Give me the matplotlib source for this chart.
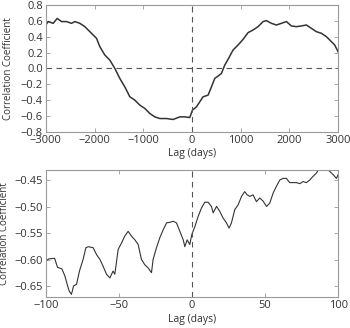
import matplotlib
matplotlib.use('Agg')
from matplotlib import pyplot as plt

plt.rcParams['font.family'] = ['Open Sans', 'DejaVu Sans']
plt.rcParams['font.size'] = 7.5

# panel 1: long lag range
lagLargo = [-3000, -2952, -2850, -2767, -2678, -2576, -2473, -2405, -2302, -2200,
            -2097, -1960, -1892, -1789, -1687, -1584, -1482, -1379, -1276, -1174,
            -1071, -968, -866, -763, -661, -524, -387, -250, -148, -45,
            10, 92, 160, 228, 331, 400, 468, 536, 605, 673,
            741, 844, 947, 1049, 1152, 1254, 1357, 1460, 1528, 1631,
            1733, 1836, 1938, 2041, 2143, 2246, 2349, 2451, 2554, 2657,
            2759, 2862, 2930, 3000]
corrLargo = [0.547, 0.59, 0.568, 0.63, 0.59, 0.59, 0.568, 0.59, 0.568, 0.526,
             0.463, 0.379, 0.274, 0.168, 0.105, 0.0, -0.126, -0.232, -0.358, -0.4,
             -0.463, -0.505, -0.568, -0.611, -0.632, -0.632, -0.644, -0.611, -0.611, -0.619,
             -0.526, -0.484, -0.421, -0.358, -0.337, -0.232, -0.126, -0.097, -0.063, 0.042,
             0.114, 0.232, 0.295, 0.366, 0.451, 0.484, 0.526, 0.59, 0.602, 0.568,
             0.547, 0.568, 0.59, 0.535, 0.526, 0.535, 0.547, 0.505, 0.463, 0.442,
             0.4, 0.337, 0.295, 0.21]

# panel 2: zoom on +-100 days
lagCorto = [-100, -98, -94, -92, -89, -87, -85, -84, -82.5, -81,
            -79, -77, -74.5, -72.6, -71, -67.6, -65.3, -63, -60.8, -58.5,
            -56.2, -54, -52.8, -50.5, -48.2, -46, -43.7, -41.4, -39.1, -36.8,
            -34.6, -32.3, -30, -27.7, -26.6, -24.3, -22, -19.7, -17.4, -15.2,
            -12.9, -10.6, -8.3, -6, -4.9, -3.3, -1.5, -0.1, 2, 4.2,
            6.5, 8.8, 11, 13.3, 14.5, 16.8, 19, 21.3, 23.6, 25.4,
            27, 29.3, 31.6, 33.9, 36.1, 37.7, 39.6, 41.8, 44.1, 46.4,
            48.7, 51, 53.2, 55.5, 57.8, 60.1, 62.4, 64.6, 66.9, 69.2,
            71.5, 73.8, 76, 78.3, 80.6, 82.9, 85.2, 87, 89.7, 93.2,
            96.6, 98.9, 100]
corrCorto = [-0.602, -0.598, -0.597, -0.614, -0.617, -0.63, -0.65, -0.659, -0.665, -0.649,
             -0.646, -0.621, -0.599, -0.577, -0.575, -0.577, -0.59, -0.599, -0.612, -0.627,
             -0.634, -0.621, -0.627, -0.58, -0.568, -0.555, -0.546, -0.555, -0.562, -0.571,
             -0.599, -0.609, -0.615, -0.624, -0.599, -0.577, -0.558, -0.543, -0.53, -0.529,
             -0.527, -0.53, -0.546, -0.562, -0.575, -0.562, -0.571, -0.552, -0.537, -0.518,
             -0.502, -0.491, -0.491, -0.499, -0.511, -0.499, -0.508, -0.521, -0.53, -0.54,
             -0.53, -0.505, -0.496, -0.48, -0.471, -0.477, -0.48, -0.477, -0.49, -0.483,
             -0.489, -0.499, -0.493, -0.474, -0.461, -0.449, -0.446, -0.446, -0.454, -0.454,
             -0.454, -0.456, -0.452, -0.454, -0.449, -0.442, -0.436, -0.427, -0.42, -0.43,
             -0.439, -0.446, -0.439]

fig = plt.figure(figsize=(3.5, 3.28), dpi=100)
ax1 = fig.add_axes([0.131, 0.598, 0.835, 0.387])
ax2 = fig.add_axes([0.131, 0.0945, 0.835, 0.3875])


def estilo(ax, xlab):
    for s in ax.spines.values():
        s.set_color('#999999')
        s.set_linewidth(0.8)
    ax.tick_params(direction='in', top=True, right=True, colors='#999999',
                   labelcolor='#333333', length=3, width=0.6, pad=2, labelsize=8)
    ax.set_xlabel('Lag (days)', color='#333333', labelpad=2)
    ax.set_ylabel('Correlation Coefficient', color='#333333', fontsize=7)
    ax.yaxis.set_label_coords(xlab, 0.5)


ax1.plot(lagLargo, corrLargo, color='#333333', lw=1.1)
ax1.axhline(0, color='#555555', lw=0.8, ls=(0, (5, 4)))
ax1.axvline(0, color='#555555', lw=0.8, ls=(0, (5, 4)))
ax1.set_xlim(-3000, 3000)
ax1.set_ylim(-0.8, 0.8)
ax1.set_yticks([-0.8, -0.6, -0.4, -0.2, 0.0, 0.2, 0.4, 0.6, 0.8])
estilo(ax1, -0.108)

ax2.plot(lagCorto, corrCorto, color='#333333', lw=0.8)
ax2.axvline(0, color='#555555', lw=0.8, ls=(0, (5, 4)))
ax2.set_xlim(-100, 100)
ax2.set_ylim(-0.67, -0.43)
ax2.set_xticks([-100, -50, 0, 50, 100])
ax2.set_yticks([-0.65, -0.60, -0.55, -0.50, -0.45])
estilo(ax2, -0.124)

fig.savefig('out.png', dpi=100)
